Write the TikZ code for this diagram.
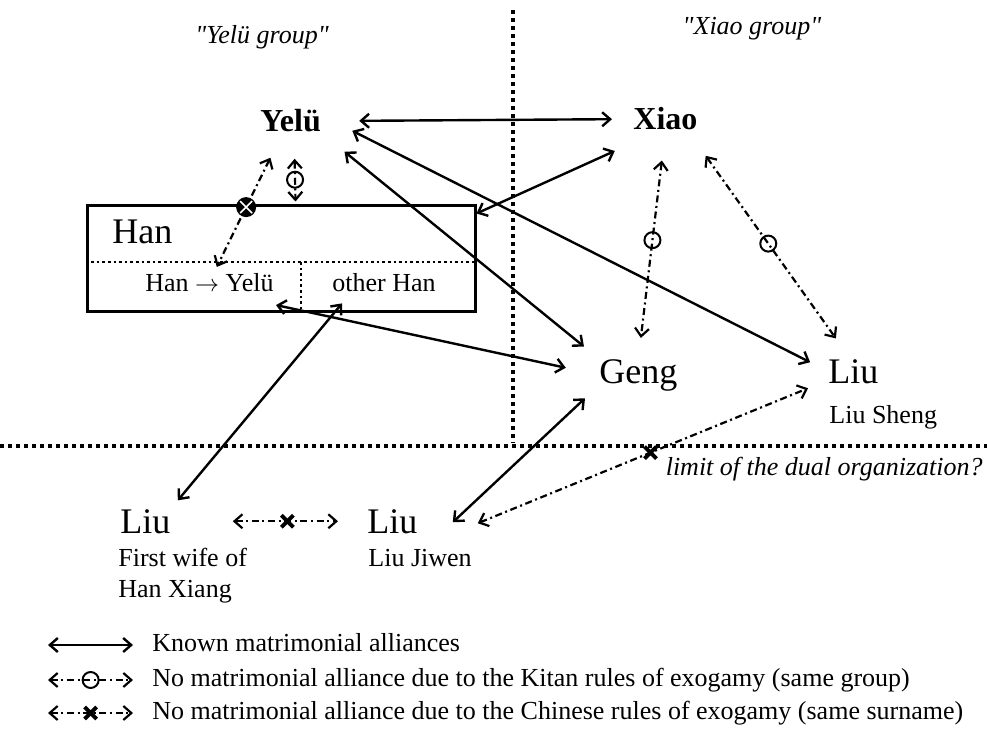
\documentclass[tikz,border=0pt]{standalone}
\usepackage{fontspec}
\setmainfont{Liberation Serif}
\usetikzlibrary{arrows.meta}

\tikzset{
  crossx/.pic={\draw[solid, -, line width=2pt] (-3pt,-3pt) -- (3pt,3pt) (-3pt,3pt) -- (3pt,-3pt);},
  boxx/.pic={\fill[black] (0,0) circle (5pt);
             \draw[solid, -, white, line width=.8pt] (-3pt,-3pt) -- (3pt,3pt) (-3pt,3pt) -- (3pt,-3pt);}
}

\begin{document}
\begin{tikzpicture}[x=0.5pt, y=-0.5pt, >={Straight Barb[length=4pt,width=7pt]}]

\tikzstyle{person}=[inner sep=0pt, font=\fontsize{18}{20}\selectfont]
\tikzstyle{clan}=[inner sep=0pt, font=\fontsize{16}{18}\selectfont\bfseries]
\tikzstyle{smalltxt}=[inner sep=0pt, font=\fontsize{13}{15.5}\selectfont]
\tikzstyle{legendtxt}=[inner sep=0pt, text height=9pt, text depth=3pt, font=\fontsize{13}{15.5}\selectfont]
\tikzstyle{grouptxt}=[inner sep=0pt, font=\fontsize{13}{15}\selectfont\itshape]
\tikzstyle{limittxt}=[inner sep=0pt, font=\fontsize{13}{15.5}\selectfont\itshape]
\tikzstyle{known}=[<->, line width=1.2pt]
\tikzstyle{exo}=[<->, line width=1.1pt, dash pattern=on 3.5pt off 1.8pt on 1pt off 1.8pt]
\tikzstyle{circmark}=[circle, draw, solid, line width=1pt, minimum size=8pt, inner sep=0pt]
\tikzstyle{divider}=[line width=2pt, dash pattern=on 2pt off 2pt]
\tikzstyle{boxdiv}=[line width=1.3pt, dash pattern=on 1.3pt off 1.5pt]

\useasboundingbox (0,0) rectangle (987,733);

% the two halves and the lower limit
\draw [divider] (513,10) -- (513,443);
\draw [divider] (0,446) -- (987,446);

\node (yelugrp) [grouptxt, anchor=base] at (262,44) {\textquotedbl Yelü group\textquotedbl};
\node (xiaogrp) [grouptxt, anchor=base] at (752,35) {\textquotedbl Xiao group\textquotedbl};
\node (limit) [limittxt, anchor=base east] at (983,475) {limit of the dual organization?};

% clans and people
\node (yelu) [clan, anchor=base west] at (260,132) {Yelü};
\node (xiao) [clan, anchor=base west] at (633,130) {Xiao};
\node (hanbox) [draw, line width=1.5pt, minimum width=194pt, minimum height=53pt] at (281,259) {};
\node (han) [person, anchor=base west] at (112,244) {Han};
\node (hanyelu) [smalltxt, anchor=base west] at (145,292) {Han $\rightarrow$ Yelü};
\node (otherhan) [smalltxt, anchor=base west] at (332,292) {other Han};
\node (geng) [person, anchor=base west] at (599,383) {Geng};
\node (liuS) [person, anchor=base west] at (828,383) {Liu};
\node (liuSname) [smalltxt, anchor=base west] at (829,423) {Liu Sheng};
\node (liuF) [person, anchor=base west] at (120,533) {Liu};
\node (liuFname) [smalltxt, anchor=north west, align=left] at (118,548) {First wife of\\Han Xiang};
\node (liuJ) [person, anchor=base west] at (367,533) {Liu};
\node (liuJname) [smalltxt, anchor=base west] at (368,566) {Liu Jiwen};

\draw [boxdiv] ([shift={(0,3)}]hanbox.west) -- ([shift={(0,3)}]hanbox.east);
\draw [boxdiv] ([shift={(20,3)}]hanbox.center) -- ([shift={(20,0)}]hanbox.south);

% known alliances
\draw [known, shorten <=19pt, shorten >=10.5pt] (yelu.east) -- (xiao.west);
\draw [known, shorten >=10pt] ([shift={(0,9)}]hanbox.north east) -- ([shift={(0,12)}]xiao.south west);
\draw [known, shorten <=15pt, shorten >=9.7pt] (yelu.south east) -- (geng.north west);
\draw [known, shorten <=17.4pt, shorten >=10pt] ([shift={(0,-6)}]yelu.east) -- (liuS.west);
\draw [known, shorten <=1pt, shorten >=17pt] ([shift={(0,12)}]hanyelu.south east) -- (geng.west);
\draw [known, shorten <=7pt, shorten >=5.5pt] ([shift={(19,0)}]otherhan.south west) -- (liuF.north east);
\draw [known, shorten <=9.6pt] ([shift={(0,-6)}]geng.south west) -- ([shift={(35,1)}]liuJ.east);

% kitan exogamy
\draw [exo] ([shift={(4,26)}]yelu.south) -- node[circmark, pos=.49] {} ([shift={(14.5,-3)}]hanbox.north);
\draw [exo, shorten <=15pt, shorten >=10.5pt] (xiao.south) -- node[circmark, pos=.48] {} (geng.north);
\draw [exo, shorten <=15.4pt, shorten >=12.5pt] ([shift={(-10,0)}]xiao.south east) -- node[circmark, pos=.495] {} ([shift={(-3,0)}]liuS.north);

% chinese exogamy
\draw [exo, shorten <=13.9pt, shorten >=3.7pt] ([shift={(-8,0)}]yelu.south) -- coordinate[pos=.528] (xm1) ([shift={(4,0)}]hanyelu.north);
\draw [exo, shorten <=31pt, shorten >=14.5pt] (liuF.east) -- coordinate[pos=.594] (xm2) (liuJ.west);
\draw [exo] ([shift={(60,2)}]liuJ.east) -- coordinate[pos=.523] (xm3) ([shift={(-20,17)}]liuS.west);
\pic at (xm1) {boxx};
\pic at (xm2) {crossx};
\pic at (xm3) {crossx};

% legend
\node (leg1) [legendtxt, anchor=base west] at (152,651) {Known matrimonial alliances};
\node (leg2) [legendtxt, anchor=base west] at (152,686) {No matrimonial alliance due to the Kitan rules of exogamy (same group)};
\node (leg3) [legendtxt, anchor=base west] at (152,719) {No matrimonial alliance due to the Chinese rules of exogamy (same surname)};
\coordinate (legstart) at (48,0);
\draw [known, shorten >=9.5pt] (legstart |- leg1.west) -- (leg1.west);
\draw [exo, shorten >=9.5pt] (legstart |- leg2.west) -- node[circmark, pos=.41] {} (leg2.west);
\draw [exo, shorten >=9.5pt] (legstart |- leg3.west) -- coordinate[pos=.41] (xm4) (leg3.west);
\pic at (xm4) {crossx};

\end{tikzpicture}
\end{document}
